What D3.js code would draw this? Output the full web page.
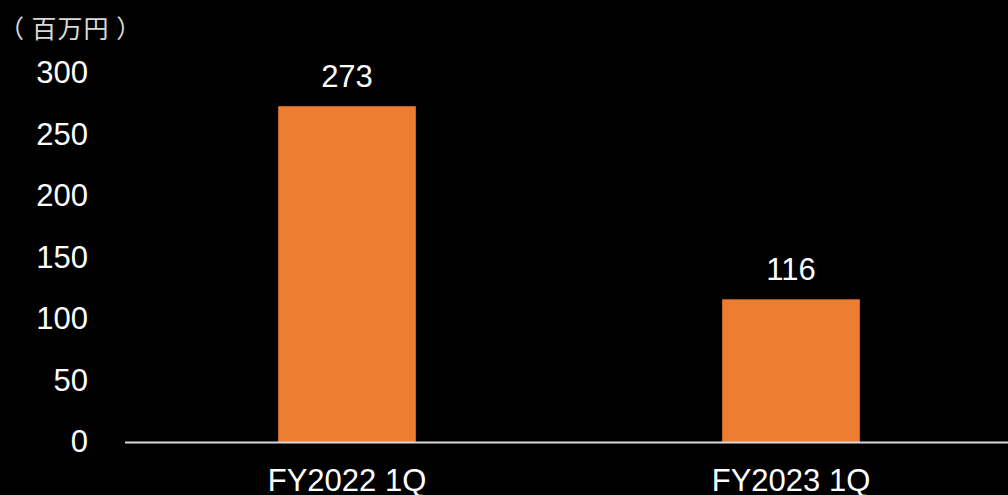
<!DOCTYPE html>
<meta charset="utf-8">
<style>
body { margin: 0; background: #000; }
text { font-family: "Liberation Sans", Arial, sans-serif; }
</style>
<body>
<script src="https://cdn.jsdelivr.net/npm/d3@7"></script>
<script>

// chart data
var categories = ["FY2022 1Q", "FY2023 1Q"];
var values = [273, 116];
var yTicks = [0, 50, 100, 150, 200, 250, 300];
var unitLabel = "（ 百万円 ）";

var W = 1008, H = 495;
var svg = d3.select("body").append("svg")
    .attr("width", W)
    .attr("height", H)
    .style("background", "#000");

// scales
var x = d3.scaleBand()
    .domain(categories)
    .range([125, 1013])
    .paddingInner(0.69)
    .paddingOuter(0.345);

var y = d3.scaleLinear()
    .domain([0, 300])
    .range([442, 73]);

// y axis labels (no line, no ticks)
var yAxis = svg.append("g")
    .attr("transform", "translate(88,0)")
    .call(d3.axisLeft(y).tickValues(yTicks).tickSize(0).tickPadding(0));
yAxis.select(".domain").remove();
yAxis.selectAll("text")
    .attr("fill", "#fff")
    .style("font-size", "31px")
    .style("font-family", "'Liberation Sans', Arial, sans-serif");

// bars
svg.selectAll("rect.bar")
    .data(values)
  .enter().append("rect")
    .attr("class", "bar")
    .attr("x", function(d, i) { return x(categories[i]); })
    .attr("width", x.bandwidth())
    .attr("y", function(d) { return y(d); })
    .attr("height", function(d) { return y(0) - y(d); })
    .attr("fill", "#ED7D31");

// value labels
svg.selectAll("text.val")
    .data(values)
  .enter().append("text")
    .attr("class", "val")
    .attr("x", function(d, i) { return x(categories[i]) + x.bandwidth() / 2; })
    .attr("y", function(d) { return y(d) - 19; })
    .attr("text-anchor", "middle")
    .attr("fill", "#fff")
    .style("font-size", "31px")
    .text(function(d) { return d; });

// x axis
var xAxis = svg.append("g")
    .attr("transform", "translate(0," + y(0) + ")")
    .call(d3.axisBottom(x).tickSize(0).tickPadding(0));
xAxis.select(".domain")
    .attr("d", "M125,0.5H1008")
    .attr("stroke", "#d9d9d9")
    .attr("stroke-width", 2);
xAxis.selectAll("text")
    .attr("fill", "#fff")
    .attr("dy", null)
    .attr("y", 49)
    .style("font-size", "31px")
    .style("font-family", "'Liberation Sans', Arial, sans-serif");

// unit label
svg.append("text")
    .attr("x", -1)
    .attr("y", 38)
    .attr("fill", "#d9d9d9")
    .style("font-size", "25px")
    .style("letter-spacing", "1px")
    .style("font-family", "'Noto Sans CJK JP', sans-serif")
    .text(unitLabel);

</script>
</body>
